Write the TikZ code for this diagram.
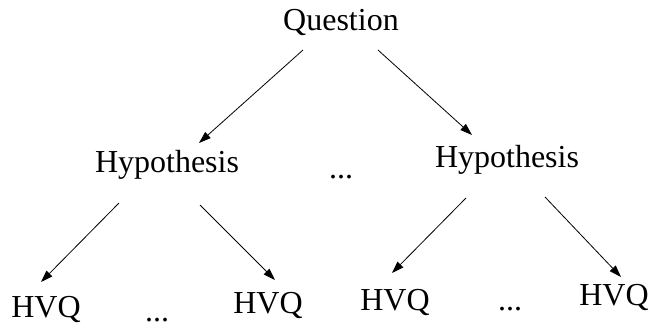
\documentclass[tikz,border=0pt]{standalone}
\usepackage{fontspec}
\setmainfont{Liberation Serif}
\usetikzlibrary{arrows.meta}
\begin{document}
\begin{tikzpicture}[x=1pt,y=-1pt,
  lbl/.style={anchor=base,inner sep=0pt,font=\fontsize{32}{38}\selectfont},
  arr/.style={-{Triangle[length=12pt,width=8pt]},line width=0.8pt}]
  \useasboundingbox (0,0) rectangle (651,325);

  % text labels (baseline placed)
  \node[lbl] (q)  at (341,30)  {Question};
  \node[lbl] (h1) at (167,172) {Hypothesis};
  \node[lbl] (h2) at (507,167) {Hypothesis};
  \node[lbl] (d0) at (341,178) {...};
  \node[lbl] (v1) at (46,317)  {HVQ};
  \node[lbl] (d1) at (157,321) {...};
  \node[lbl] (v2) at (268,313) {HVQ};
  \node[lbl] (v3) at (395,310) {HVQ};
  \node[lbl] (d2) at (510,310) {...};
  \node[lbl] (v4) at (614,305) {HVQ};

  % arrow end points
  \coordinate (q-l)  at (303,50);
  \coordinate (q-r)  at (378,50);
  \coordinate (h1-t) at (199,143);
  \coordinate (h2-t) at (472,135);
  \coordinate (h1-l) at (119,203);
  \coordinate (h1-r) at (200,205);
  \coordinate (h2-l) at (466,198);
  \coordinate (h2-r) at (545,197);
  \coordinate (v1-t) at (41,282);
  \coordinate (v2-t) at (275,280);
  \coordinate (v3-t) at (392,273);
  \coordinate (v4-t) at (621,277);

  \draw[arr] (q-l) -- (h1-t);
  \draw[arr] (q-r) -- (h2-t);
  \draw[arr] (h1-l) -- (v1-t);
  \draw[arr] (h1-r) -- (v2-t);
  \draw[arr] (h2-l) -- (v3-t);
  \draw[arr] (h2-r) -- (v4-t);
\end{tikzpicture}
\end{document}
